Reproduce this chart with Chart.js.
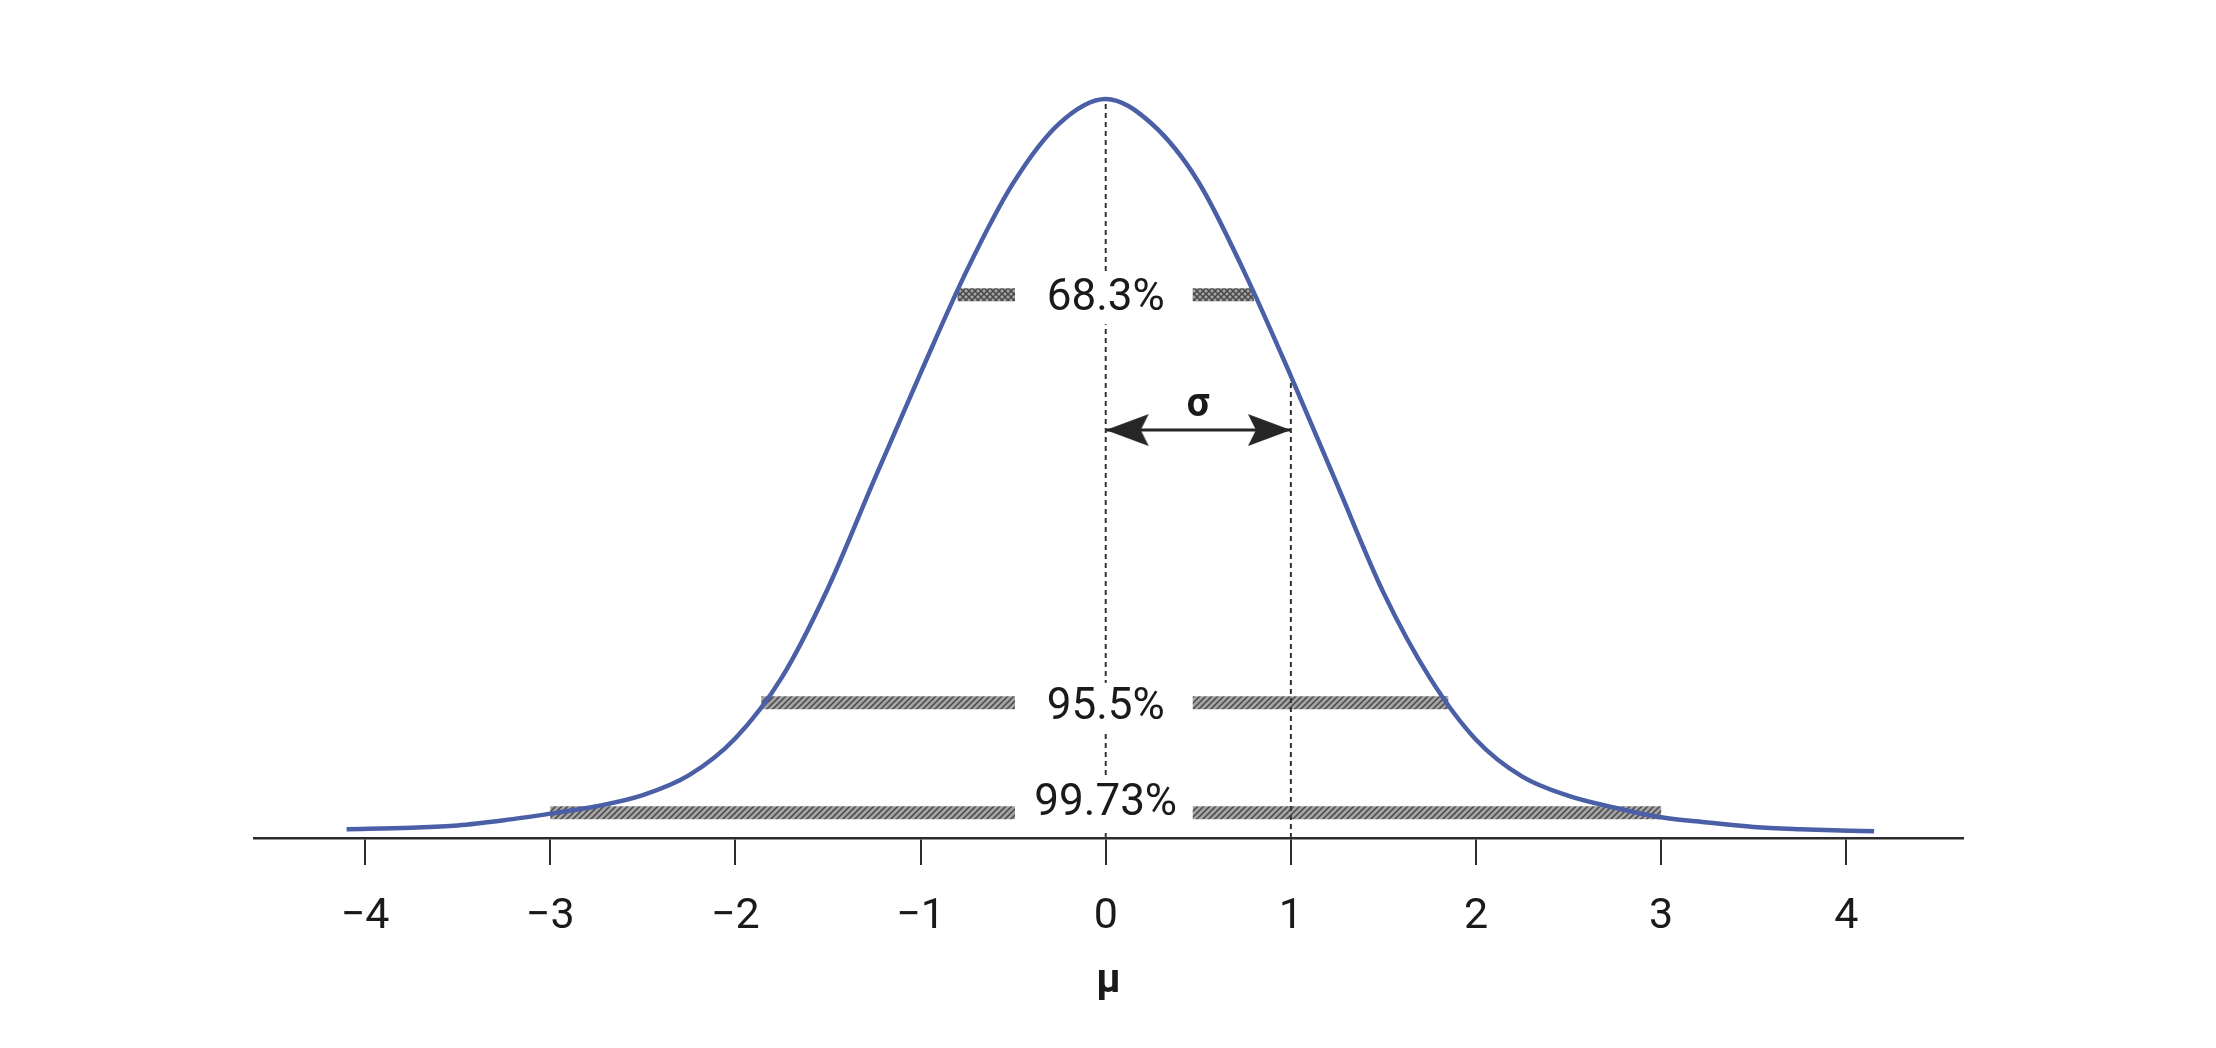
<!DOCTYPE html>
<html>
<head>
<meta charset="utf-8">
<script src="https://cdn.jsdelivr.net/npm/chart.js@4.4.1/dist/chart.umd.min.js"></script>
<style>
  html, body { margin: 0; padding: 0; background: #fff; }
  canvas { display: block; }
</style>
</head>
<body>
<canvas id="grafico_normal" width="2216" height="1048"></canvas>
<script>
// curve: x in sigma units, y relative to the peak
const curveX = [-4.1, -3.75, -3.5, -3.25, -3.0, -2.75, -2.5, -2.25, -2.0, -1.75, -1.5, -1.25, -1.0, -0.75, -0.5, -0.25, 0,
                0.25, 0.5, 0.75, 1.0, 1.25, 1.5, 1.75, 2.0, 2.25, 2.5, 2.75, 3.0, 3.25, 3.5, 3.75, 4.15];
const curveY = [0.012, 0.014, 0.017, 0.024, 0.033, 0.043, 0.058, 0.085, 0.135, 0.217, 0.338, 0.485, 0.629, 0.768, 0.886, 0.967, 1.0,
                0.966, 0.888, 0.765, 0.625, 0.478, 0.332, 0.217, 0.133, 0.083, 0.057, 0.041, 0.028, 0.021, 0.015, 0.012, 0.009];

// the three shaded bands
const bandLabels = ['68.3%', '95.5%', '99.73%'];
const bandLevels = [0.735, 0.183, 0.034];
const bandLeft = [-0.80, -1.86, -3.0];
const bandRight = [0.80, 1.85, 3.0];
const bandGap = [-0.49, 0.47];
const labelLevels = [0.729, 0.176, 0.046];

const sigmaLevel = 0.584;
const arrowLevel = 0.552;
const sigmaTop = 0.62;

const ctx = document.getElementById('grafico_normal');

function hatch(cross) {
  const c = document.createElement('canvas');
  c.width = 6; c.height = 6;
  const g = c.getContext('2d');
  g.fillStyle = '#a4a4a4';
  g.fillRect(0, 0, 6, 6);
  g.strokeStyle = '#484848';
  g.lineWidth = 1.5;
  g.beginPath();
  g.moveTo(-1, 7); g.lineTo(7, -1);
  g.moveTo(-4, 4); g.lineTo(4, -4);
  g.moveTo(2, 10); g.lineTo(10, 2);
  if (cross) {
    g.moveTo(-1, -1); g.lineTo(7, 7);
    g.moveTo(-4, 2); g.lineTo(4, 10);
    g.moveTo(2, -4); g.lineTo(10, 4);
  }
  g.stroke();
  return g.createPattern(c, 'repeat');
}

function arrowHead(dir) {
  const c = document.createElement('canvas');
  c.width = 92; c.height = 34;
  const g = c.getContext('2d');
  g.fillStyle = '#262626';
  g.beginPath();
  g.moveTo(46, 17);
  g.lineTo(46 + dir * 43, 1);
  g.lineTo(46 + dir * 35, 17);
  g.lineTo(46 + dir * 43, 33);
  g.closePath();
  g.fill();
  return c;
}

const datasets = [{
  data: curveX.map((x, i) => ({ x, y: curveY[i] })),
  borderColor: '#4b5fa7',
  borderWidth: 4.5,
  pointRadius: 0,
  cubicInterpolationMode: 'monotone'
}, {
  data: [{ x: 0, y: 0 }, { x: 0, y: 1 }],
  borderColor: '#333',
  borderWidth: 2,
  borderDash: [5, 4],
  pointRadius: 0
}, {
  data: [{ x: 1, y: 0 }, { x: 1, y: sigmaTop }],
  borderColor: '#333',
  borderWidth: 2,
  borderDash: [5, 4],
  pointRadius: 0
}, {
  data: [{ x: 0, y: arrowLevel }, { x: 1, y: arrowLevel }],
  borderColor: '#262626',
  borderWidth: 3,
  pointRadius: 5,
  pointStyle: [arrowHead(1), arrowHead(-1)]
}];

bandLevels.forEach((lvl, i) => {
  const pat = hatch(i === 0);
  datasets.push({
    data: [{ x: bandLeft[i], y: lvl }, { x: bandGap[0], y: lvl }],
    borderColor: pat, borderWidth: 13, borderCapStyle: 'butt', pointRadius: 0
  });
  datasets.push({
    data: [{ x: bandGap[1], y: lvl }, { x: bandRight[i], y: lvl }],
    borderColor: pat, borderWidth: 13, borderCapStyle: 'butt', pointRadius: 0
  });
});

const textos = {
  id: 'textos',
  afterDatasetsDraw(chart) {
    const { ctx, scales: { x, y } } = chart;
    ctx.save();
    ctx.textAlign = 'center';
    ctx.textBaseline = 'middle';
    ctx.font = '44px Roboto';
    bandLabels.forEach((t, i) => {
      const px = x.getPixelForValue(0);
      const py = y.getPixelForValue(labelLevels[i]);
      const w = ctx.measureText(t).width + 10;
      ctx.fillStyle = '#fff';
      ctx.fillRect(px - w / 2, py - 25, w, 50);
      ctx.fillStyle = '#1a1a1a';
      ctx.fillText(t, px, py);
    });
    ctx.font = 'bold 40px Roboto';
    ctx.fillText('σ', x.getPixelForValue(0.5), y.getPixelForValue(sigmaLevel));
    ctx.restore();
  }
};

new Chart(ctx, {
  type: 'line',
  data: { datasets },
  options: {
    responsive: false,
    animation: false,
    devicePixelRatio: 1,
    layout: { padding: { left: 254, right: 253, top: 25, bottom: 0 } },
    plugins: { legend: { display: false }, tooltip: { enabled: false } },
    scales: {
      x: {
        type: 'linear',
        min: -4.6,
        max: 4.63,
        afterFit: s => { s.height = 210; },
        border: { color: '#2b2b2b', width: 2.5 },
        grid: { drawOnChartArea: false, drawTicks: true, tickLength: 27, color: '#2b2b2b', lineWidth: 2 },
        ticks: {
          stepSize: 1,
          includeBounds: false,
          autoSkip: false,
          maxRotation: 0,
          padding: 26,
          color: '#1a1a1a',
          font: { family: 'Roboto', size: 43 },
          callback: v => v < 0 ? '\u2212' + Math.abs(v) : String(v)
        },
        title: {
          display: true,
          text: 'μ',
          color: '#1a1a1a',
          font: { family: 'Roboto', size: 40, weight: 'bold' },
          padding: { top: 0, bottom: 42 }
        }
      },
      y: { display: false, min: 0, max: 1.1 }
    }
  },
  plugins: [textos]
});
</script>
</body>
</html>
